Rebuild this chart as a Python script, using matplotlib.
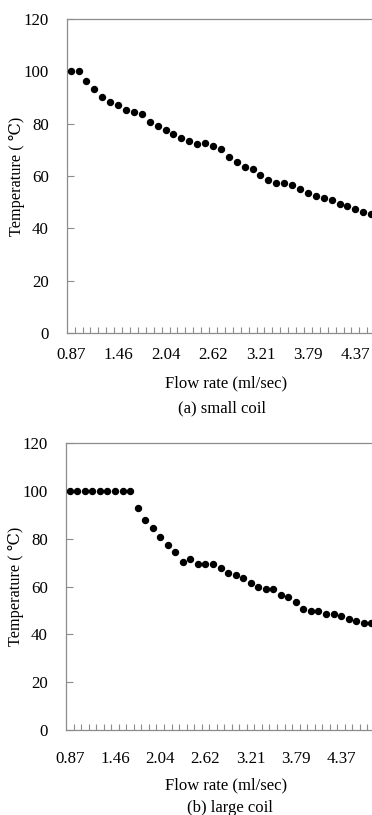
import numpy as np
import matplotlib
matplotlib.use("Agg")
import matplotlib.pyplot as plt

plt.rcParams['font.family'] = ['Liberation Serif', 'DejaVu Serif', 'DejaVu Sans']

# tick labels shown every 6th category
flow_labels = ['0.87', '1.46', '2.04', '2.62', '3.21', '3.79', '4.37']

# (a) small coil
temp_small = [100, 100, 96.4, 93.4, 90.3, 88.2, 87.2, 85.2, 84.3, 83.6,
              80.6, 79.2, 77.6, 76.2, 74.5, 73.2, 72.3, 72.5, 71.5, 70.3,
              67.3, 65.5, 63.4, 62.5, 60.5, 58.3, 57.3, 57.4, 56.6, 55.1,
              53.6, 52.5, 51.6, 51.0, 49.3, 48.4, 47.4, 46.4, 45.5]

# (b) large coil
temp_large = [100, 100, 100, 100, 100, 100, 100, 100, 100, 92.8,
              87.9, 84.6, 80.9, 77.6, 74.6, 70.5, 71.6, 69.5, 69.5, 69.5,
              67.8, 65.7, 64.9, 63.5, 61.5, 59.8, 59.0, 59.0, 56.7, 55.7,
              53.6, 50.6, 49.8, 49.8, 48.6, 48.6, 47.7, 46.5, 45.6, 44.8,
              44.6]

W, H = 372, 815
fig = plt.figure(figsize=(W / 100, H / 100), dpi=100)

gray = '#8c8c8c'
fs = 12.2


def draw_panel(ax, temps, xright, label_pad):
    x = np.arange(len(temps))
    ax.plot(x, temps, 'o', color='black', ms=4.3, clip_on=False, zorder=3)
    ax.set_xlim(-0.5, xright)
    ax.set_ylim(0, 120)
    ax.set_yticks(np.arange(0, 121, 20))
    ax.set_xticks(np.arange(0, 6 * len(flow_labels), 6))
    ax.set_xticklabels(flow_labels)
    ax.set_xticks(np.arange(0.5, xright, 1), minor=True)
    ax.tick_params(axis='x', which='major', length=0, pad=label_pad,
                   labelsize=fs)
    ax.tick_params(axis='x', which='minor', direction='in', length=4,
                   color=gray, width=0.8)
    ax.tick_params(axis='y', direction='in', length=5, color=gray,
                   width=0.8, pad=13, labelsize=fs)
    for s in ['left', 'bottom', 'top']:
        ax.spines[s].set_color(gray)
        ax.spines[s].set_linewidth(0.9)
    ax.spines['right'].set_visible(False)
    ax.set_ylabel('Temperature ( ℃)', fontsize=fs - 0.5)
    ax.yaxis.set_label_coords(-0.137, 0.5)


ax1 = fig.add_axes([66.7 / W, (H - 333) / H, (W - 66.7) / W, 314 / H])
draw_panel(ax1, temp_small, 38.1, 10)

ax2 = fig.add_axes([66.0 / W, (H - 730) / H, (W - 66.0) / W, 286.7 / H])
draw_panel(ax2, temp_large, 40.1, 15)

fig.text(226 / W, 1 - 383 / H, 'Flow rate (ml/sec)', ha='center',
         va='center', fontsize=12)
fig.text(222 / W, 1 - 408 / H, '(a) small coil', ha='center',
         va='center', fontsize=12)
fig.text(226 / W, 1 - 785 / H, 'Flow rate (ml/sec)', ha='center',
         va='center', fontsize=12)
fig.text(230 / W, 1 - 808 / H, '(b) large coil', ha='center',
         va='center', fontsize=12)

fig.savefig('out.png', dpi=100)
